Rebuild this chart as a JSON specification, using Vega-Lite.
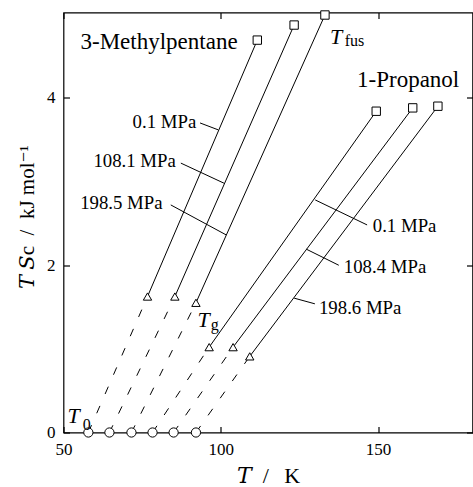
{
  "$schema": "https://vega.github.io/schema/vega-lite/v6.json",
  "width": 409,
  "height": 420,
  "autosize": {"type": "none"},
  "padding": {"left": 63.5, "top": 12.5, "right": 0, "bottom": 54.5},
  "background": "white",
  "config": {
    "view": {"stroke": "black", "strokeWidth": 1.2},
    "font": "Liberation Serif, DejaVu Serif, serif",
    "axis": {
      "grid": false, "domain": false, "tickColor": "black", "tickSize": 6, "tickWidth": 1.2, "offset": -6,
      "labelFlush": false, "labelOverlap": false,
      "labelColor": "black", "labelFont": "Liberation Serif, DejaVu Serif, serif", "labelFontSize": 17,
      "titleFont": "Liberation Serif, DejaVu Serif, serif", "titleFontSize": 22, "titleFontWeight": "normal", "titleColor": "black"
    },
    "text": {"font": "Liberation Serif, DejaVu Serif, serif", "color": "black"}
  },
  "datasets": {
    "pts": [
      {"series": "3MP 0.1", "kind": "T0", "T": 57.9, "y": 0},
      {"series": "3MP 0.1", "kind": "Tg", "T": 76.7, "y": 1.625},
      {"series": "3MP 0.1", "kind": "Tfus", "T": 111.6, "y": 4.69},
      {"series": "3MP 108.1", "kind": "T0", "T": 64.6, "y": 0},
      {"series": "3MP 108.1", "kind": "Tg", "T": 85.4, "y": 1.625},
      {"series": "3MP 108.1", "kind": "Tfus", "T": 123.3, "y": 4.87},
      {"series": "3MP 198.5", "kind": "T0", "T": 71.6, "y": 0},
      {"series": "3MP 198.5", "kind": "Tg", "T": 92.1, "y": 1.55},
      {"series": "3MP 198.5", "kind": "Tfus", "T": 133.1, "y": 4.99},
      {"series": "1P 0.1", "kind": "T0", "T": 78.3, "y": 0},
      {"series": "1P 0.1", "kind": "Tg", "T": 96.3, "y": 1.02},
      {"series": "1P 0.1", "kind": "Tfus", "T": 149.4, "y": 3.84},
      {"series": "1P 108.4", "kind": "T0", "T": 85.0, "y": 0},
      {"series": "1P 108.4", "kind": "Tg", "T": 103.9, "y": 1.02},
      {"series": "1P 108.4", "kind": "Tfus", "T": 161.0, "y": 3.88},
      {"series": "1P 198.6", "kind": "T0", "T": 92.1, "y": 0},
      {"series": "1P 198.6", "kind": "Tg", "T": 109.2, "y": 0.91},
      {"series": "1P 198.6", "kind": "Tfus", "T": 169.0, "y": 3.9}
    ],
    "leaders": [
      {"T1": 93.4, "y1": 3.70, "T2": 99.2, "y2": 3.617},
      {"T1": 87.3, "y1": 3.22, "T2": 101.0, "y2": 2.98},
      {"T1": 84.1, "y1": 2.72, "T2": 101.7, "y2": 2.362},
      {"T1": 130.0, "y1": 2.78, "T2": 146.5, "y2": 2.481},
      {"T1": 127.2, "y1": 2.191, "T2": 137.5, "y2": 1.999},
      {"T1": 123.3, "y1": 1.606, "T2": 129.9, "y2": 1.538}
    ],
    "plabL": [
      {"label": "0.1 MPa", "T": 92.2, "y": 3.644},
      {"label": "108.1 MPa", "T": 85.7, "y": 3.178},
      {"label": "198.5 MPa", "T": 81.5, "y": 2.673}
    ],
    "plabR": [
      {"label": "0.1 MPa", "T": 148.3, "y": 2.401},
      {"label": "108.4 MPa", "T": 139.1, "y": 1.904},
      {"label": "198.6 MPa", "T": 131.2, "y": 1.418}
    ],
    "names": [
      {"label": "3-Methylpentane", "T": 55.4, "y": 4.584},
      {"label": "1-Propanol", "T": 143.3, "y": 4.127}
    ],
    "tsym": [
      {"label": "T", "T": 134.7, "y": 4.641},
      {"label": "T", "T": 92.6, "y": 1.266},
      {"label": "T", "T": 51.3, "y": 0.11}
    ],
    "tsub": [
      {"label": "fus", "T": 139.4, "y": 4.62},
      {"label": "g", "T": 96.8, "y": 1.23},
      {"label": "0", "T": 56.1, "y": 0.03}
    ]
  },
  "layer": [
    {
      "layer": [
        {
          "data": {"name": "pts"},
          "transform": [{"filter": "datum.kind !== 'T0'"}],
          "mark": {"type": "line", "color": "black", "strokeWidth": 1},
          "encoding": {
            "x": {"field": "T", "type": "quantitative", "scale": {"domain": [50, 180], "nice": false, "zero": false},
                  "axis": {"values": [50, 100, 150], "format": "d", "title": "𝑇\u2002/\u2002\u2009K", "labelPadding": 9, "titleY": 55.5, "titleBaseline": "alphabetic"}},
            "y": {"field": "y", "type": "quantitative", "scale": {"domain": [0, 5.02], "nice": false},
                  "axis": {"values": [0, 2, 4], "format": "d", "title": "𝑇 𝑆c\u2002/\u2002kJ mol⁻¹", "titleFontSize": 21, "labelPadding": 8.5, "titleX": -36.5, "titleY": 204, "titleAngle": -90, "titleBaseline": "alphabetic", "titleAlign": "center"}},
            "detail": {"field": "series"},
            "order": {"field": "T", "type": "quantitative"}
          }
        },
        {
          "data": {"name": "pts"},
          "transform": [{"filter": "datum.kind !== 'Tfus'"}],
          "mark": {"type": "line", "color": "black", "strokeWidth": 1, "strokeDash": [8, 13]},
          "encoding": {
            "x": {"field": "T", "type": "quantitative"},
            "y": {"field": "y", "type": "quantitative"},
            "detail": {"field": "series"},
            "order": {"field": "T", "type": "quantitative"}
          }
        },
        {
          "data": {"name": "leaders"},
          "mark": {"type": "rule", "color": "black", "strokeWidth": 1},
          "encoding": {
            "x": {"field": "T1", "type": "quantitative"},
            "y": {"field": "y1", "type": "quantitative"},
            "x2": {"field": "T2"},
            "y2": {"field": "y2"}
          }
        },
        {
          "data": {"name": "pts"},
          "transform": [{"filter": "datum.kind === 'T0'"}],
          "mark": {"type": "point", "shape": "circle", "size": 85, "filled": true, "fill": "white", "stroke": "black", "strokeWidth": 1, "opacity": 1, "clip": false},
          "encoding": {"x": {"field": "T", "type": "quantitative"}, "y": {"field": "y", "type": "quantitative"}}
        },
        {
          "data": {"name": "pts"},
          "transform": [{"filter": "datum.kind === 'Tg'"}],
          "mark": {"type": "point", "shape": "triangle-up", "size": 70, "filled": true, "fill": "white", "stroke": "black", "strokeWidth": 1, "opacity": 1},
          "encoding": {"x": {"field": "T", "type": "quantitative"}, "y": {"field": "y", "type": "quantitative"}}
        },
        {
          "data": {"name": "pts"},
          "transform": [{"filter": "datum.kind === 'Tfus'"}],
          "mark": {"type": "point", "shape": "square", "size": 70, "filled": true, "fill": "white", "stroke": "black", "strokeWidth": 1, "opacity": 1},
          "encoding": {"x": {"field": "T", "type": "quantitative"}, "y": {"field": "y", "type": "quantitative"}}
        },
        {
          "data": {"name": "plabL"},
          "mark": {"type": "text", "fontSize": 18.8, "align": "right", "baseline": "alphabetic"},
          "encoding": {"x": {"field": "T", "type": "quantitative"}, "y": {"field": "y", "type": "quantitative"}, "text": {"field": "label"}}
        },
        {
          "data": {"name": "plabR"},
          "mark": {"type": "text", "fontSize": 18.8, "align": "left", "baseline": "alphabetic"},
          "encoding": {"x": {"field": "T", "type": "quantitative"}, "y": {"field": "y", "type": "quantitative"}, "text": {"field": "label"}}
        },
        {
          "data": {"name": "names"},
          "mark": {"type": "text", "fontSize": 23, "align": "left", "baseline": "alphabetic"},
          "encoding": {"x": {"field": "T", "type": "quantitative"}, "y": {"field": "y", "type": "quantitative"}, "text": {"field": "label"}}
        },
        {
          "data": {"name": "tsym"},
          "mark": {"type": "text", "fontSize": 22, "fontStyle": "italic", "align": "left", "baseline": "alphabetic"},
          "encoding": {"x": {"field": "T", "type": "quantitative"}, "y": {"field": "y", "type": "quantitative"}, "text": {"field": "label"}}
        },
        {
          "data": {"name": "tsub"},
          "mark": {"type": "text", "fontSize": 16, "align": "left", "baseline": "alphabetic"},
          "encoding": {"x": {"field": "T", "type": "quantitative"}, "y": {"field": "y", "type": "quantitative"}, "text": {"field": "label"}}
        }
      ]
    },
    {
      "data": {"name": "pts"},
      "mark": {"type": "point", "opacity": 0},
      "encoding": {
        "x": {"field": "T", "type": "quantitative", "axis": {"orient": "top", "values": [50, 100, 150], "labels": false, "title": null}},
        "y": {"field": "y", "type": "quantitative", "axis": {"orient": "right", "values": [0, 2, 4], "labels": false, "title": null}}
      }
    }
  ],
  "resolve": {"axis": {"x": "independent", "y": "independent"}}
}
